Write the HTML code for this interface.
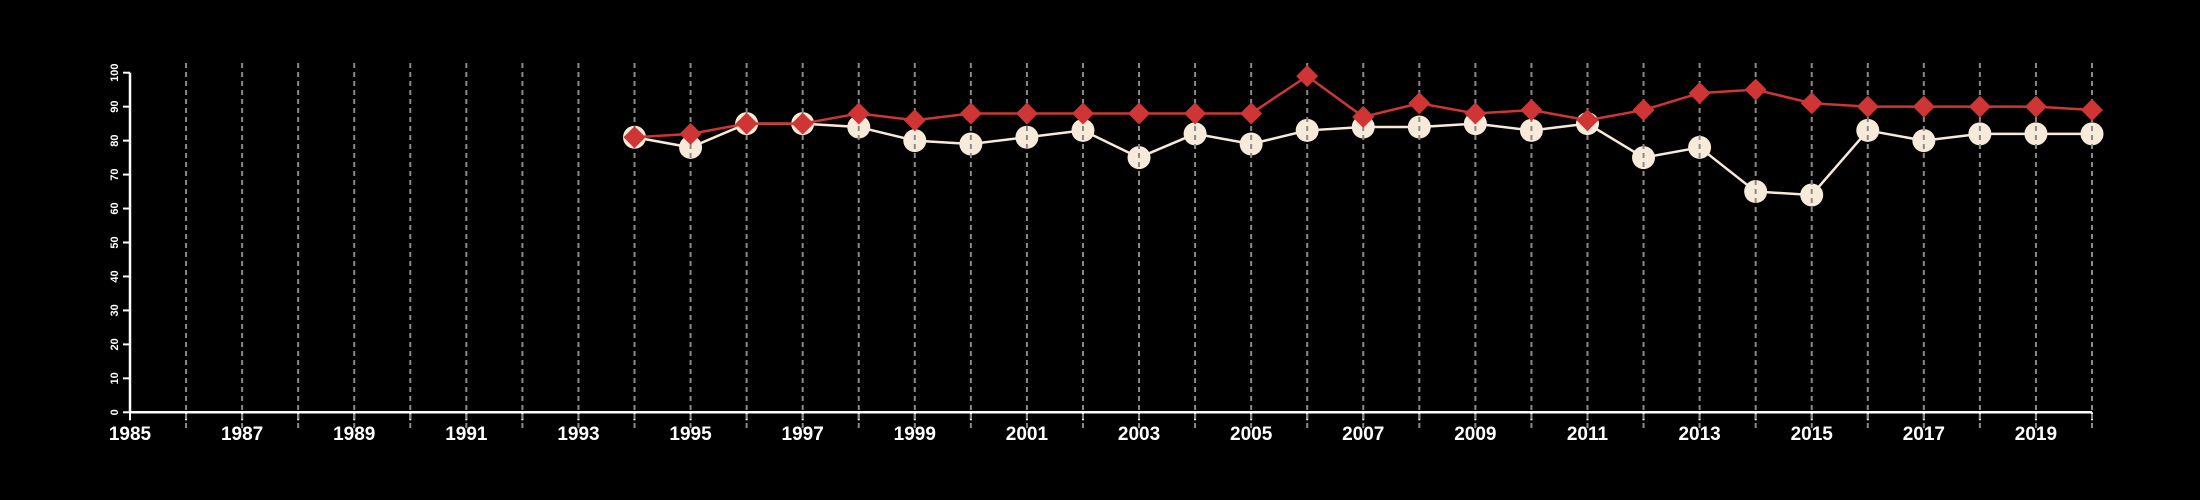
<!DOCTYPE html>
<html><head><meta charset="utf-8"><style>
html,body{margin:0;padding:0;background:#000;width:2200px;height:500px;overflow:hidden}
svg{display:block}
text{font-family:"Liberation Sans",sans-serif;fill:#fff}
</style></head><body>
<svg id="chart" width="2200" height="500" xmlns="http://www.w3.org/2000/svg"></svg>
<script>
const years = [1994,1995,1996,1997,1998,1999,2000,2001,2002,2003,2004,2005,2006,2007,2008,2009,2010,2011,2012,2013,2014,2015,2016,2017,2018,2019,2020];
const whiteSeries = [81,78,85,85,84,80,79,81,83,75,82,79,83,84,84,85,83,85,75,78,65,64,83,80,82,82,82];
const redSeries = [81,82,85,85,88,86,88,88,88,88,88,88,99,87,91,88,89,86,89,94,95,91,90,90,90,90,89];
const yTicks = [0,10,20,30,40,50,60,70,80,90,100];
const xLabelYears = [1985,1987,1989,1991,1993,1995,1997,1999,2001,2003,2005,2007,2009,2011,2013,2015,2017,2019];

const NS='http://www.w3.org/2000/svg';
const svg=document.getElementById('chart');
const X0=130,X1=2092,Y0=412.3,Y1=72.7;
const x=v=>X0+(v-1985)*(X1-X0)/35;
const y=v=>Y0+(v-0)*(Y1-Y0)/100;
function mk(tag,attrs,parent){const e=document.createElementNS(NS,tag);for(const k in attrs)e.setAttribute(k,attrs[k]);(parent||svg).appendChild(e);return e;}

// axes
const ax=mk('line',{x1:x(1985),x2:x(2020),y1:Y0,y2:Y0,stroke:'#fff','stroke-width':2.5});


const ay=mk('line',{x1:X0,x2:X0,y1:Y0,y2:Y1,stroke:'#fff','stroke-width':2.5});


yTicks.forEach(t=>{
  const l=mk('line',{x1:X0-7,x2:X0,y1:y(t),y2:y(t),stroke:'#fff','stroke-width':2});
  
  
  const tx=mk('text',{x:0,y:0,'font-size':11,'font-weight':'bold','text-anchor':'middle',transform:`translate(${X0-12},${y(t)}) rotate(-90)`});
  tx.textContent=t;
  
  
});
for(let yr=1985;yr<=2020;yr++){
  const l=mk('line',{x1:x(yr),x2:x(yr),y1:Y0,y2:Y0+8,stroke:'#fff','stroke-width':2});
  
  
}
xLabelYears.forEach(yr=>{
  const t=mk('text',{x:x(yr),y:440,'font-size':19,'font-weight':'bold','text-anchor':'middle'});
  t.textContent=yr;
  
  
});

// white series
const wp=mk('polyline',{points:years.map((yr,i)=>x(yr)+','+y(whiteSeries[i])).join(' '),fill:'none',stroke:'#f8ead8','stroke-width':2.5});


years.forEach((yr,i)=>{
  const c=mk('circle',{cx:x(yr),cy:y(whiteSeries[i]),r:11.5,fill:'#f8ead8'});
  
  
});

// gridlines
for(let yr=1986;yr<=2020;yr++){
  const g=mk('line',{x1:x(yr),x2:x(yr),y1:63,y2:428,stroke:'#8a8a8a','stroke-width':2,'stroke-dasharray':'5,4'});
  
  
}

// red series
const rp=mk('polyline',{points:years.map((yr,i)=>x(yr)+','+y(redSeries[i])).join(' '),fill:'none',stroke:'#d03535','stroke-width':2.5});


years.forEach((yr,i)=>{
  const cx=x(yr),cy=y(redSeries[i]),d=11;
  const p=mk('polygon',{points:`${cx},${cy-d} ${cx+d},${cy} ${cx},${cy+d} ${cx-d},${cy}`,fill:'#d03535'});
  
  
});
</script>
</body></html>
